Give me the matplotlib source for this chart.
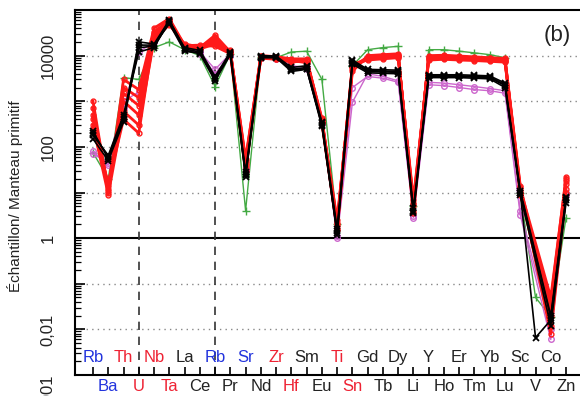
import numpy as np
import matplotlib.pyplot as plt
import matplotlib.transforms as mtransforms
from matplotlib.ticker import LogLocator, NullFormatter

plt.rcParams['font.family'] = ['Liberation Sans', 'DejaVu Sans']

nan = np.nan

elements = ['Rb', 'Ba', 'Th', 'U', 'Nb', 'Ta', 'La', 'Ce', 'Rb', 'Pr', 'Sr', 'Nd',
            'Zr', 'Hf', 'Sm', 'Eu', 'Ti', 'Sn', 'Gd', 'Tb', 'Dy', 'Li', 'Y', 'Ho',
            'Er', 'Tm', 'Yb', 'Lu', 'Sc', 'V', 'Co', 'Zn']
label_colors = ['#2233dd', '#2233dd', '#ee2233', '#ee2233', '#ee2233', '#ee2233',
                '#222222', '#222222', '#2233dd', '#222222', '#2233dd', '#222222',
                '#ee2233', '#ee2233', '#222222', '#222222', '#ee2233', '#ee2233',
                '#222222', '#222222', '#222222', '#222222', '#222222', '#222222',
                '#222222', '#222222', '#222222', '#222222', '#222222', '#222222',
                '#222222', '#222222']

# red group (normalised to primitive mantle)
red_1 = [1000, 10, 3000, 1800, 40000, 65000, 17000, 15000, 28000, 12000, 40, 9500,
         9000, 8000, 8000, 350, 2.0, 6000, 9000, 9500, 10000, 5, 9000, 9300,
         9000, 8600, 8300, 8000, 12, nan, 0.05, 20]
red_2 = [700, 12, 2000, 1200, 33000, 60000, 16000, 16000, 22000, 11500, 35, 9000,
         8500, 7500, 7500, 380, 1.8, 5500, 8500, 9000, 9500, 6, 8500, 8800,
         8500, 8200, 7900, 7600, 10, nan, 0.03, 18]
red_3 = [500, 14, 1500, 800, 28000, 55000, 15000, 14000, 18000, 12500, 50, 10000,
         9500, 8500, 8500, 400, 2.2, 5000, 9500, 10000, 10500, 4, 9500, 9800,
         9500, 9000, 8700, 8400, 14, nan, 0.02, 15]
red_4 = [400, 11, 1000, 500, 25000, 50000, 16500, 17000, 16000, 11000, 30, 9200,
         8800, 7800, 7000, 330, 1.6, 6500, 8000, 8500, 9000, 7, 8000, 8300,
         8000, 7800, 7500, 7200, 11, nan, 0.012, 12]
red_5 = [300, 9, 600, 300, 22000, 48000, 18000, 15500, 20000, 13000, 45, 9800,
         9200, 8200, 8200, 360, 2.5, 4500, 10000, 10500, 11000, 3.5, 10000, 10200,
         9800, 9400, 9000, 8700, 9, nan, 0.04, 22]
red_6 = [250, 16, 400, 200, 30000, 58000, 15500, 14500, 25000, 12000, 55, 8800,
         8300, 7200, 7800, 420, 1.5, 5800, 8800, 9200, 9800, 5.5, 8800, 9000,
         8700, 8400, 8100, 7800, 13, nan, 0.008, 10]

# black group
black_1 = [200, 60, 450, 20000, 18000, 60000, 14000, 12000, 3000, 11000, 25, 9500,
           9500, 5000, 5500, 300, 1.4, 7000, 4500, 4400, 4300, 4, 3500, 3500,
           3500, 3400, 3300, 2200, 10, 0.0066, 0.016, 7.5]
black_2 = [220, 55, 400, 15000, 16000, 55000, 13000, 11000, 2800, 10500, 22, 9000,
           9000, 4500, 5000, 330, 1.2, 6500, 4200, 4100, 4000, 3.5, 3300, 3300,
           3300, 3200, 3100, 2000, 9, nan, 0.012, 6]
black_3 = [180, 65, 500, 12000, 15000, 58000, 15000, 13000, 3500, 12000, 28, 10000,
           9800, 5500, 6000, 350, 1.6, 8000, 5000, 4900, 4800, 4.5, 3800, 3800,
           3800, 3700, 3600, 2500, 11, nan, 0.02, 8]
black_4 = [150, 50, 350, 17000, 17000, 50000, 12500, 11500, 3200, 11500, 24, 9200,
           9200, 4800, 5200, 280, 1.3, 7500, 4700, 4600, 4500, 3.8, 3600, 3600,
           3600, 3500, 3400, 2300, 10, nan, 0.018, 7]

# pink group
pink_1 = [70, 45, 1000, 1600, 25000, 60000, 15000, 12000, 5000, 11000, 30, 9500,
          9000, 6000, 5500, 350, 1.0, 950, 4000, 3500, 2800, 2.8, 2300, 2200,
          2000, 1800, 1700, 1500, 3.2, nan, 0.006, 10]
pink_2 = [80, 40, 700, 12000, 20000, 55000, 14000, 11000, 4000, 10000, 35, 9000,
          8500, 5500, 5000, 320, 1.1, 2000, 3500, 3200, 2600, 3, 2600, 2500,
          2300, 2100, 1900, 1700, 4, nan, 0.01, 9]

# green sample
green_1 = [75, 20, 3300, 3000, 15000, 20000, 13500, 10000, 2100, 11000, 4, 9500,
           9000, 12000, 12500, 3000, 2.0, 6000, 13500, 15000, 16000, 5, 13500, 13500,
           12500, 11500, 10500, 9000, 10, 0.05, 0.019, 2.8]

x = np.arange(len(elements))

fig = plt.figure(figsize=(5.8, 3.96), dpi=100)
ax = fig.add_axes([75 / 580, 21 / 396, 515 / 580, 365 / 396])
ax.set_yscale('log')
ax.set_xlim(-1.18, 32.57)
ax.set_ylim(1e-3, 1e5)

# decade grid, solid at 1
for dec in [1e4, 1e3, 1e2, 1e1, 1e-1, 1e-2]:
    ax.axhline(dec, color='#888888', lw=1, ls=(0, (1, 3)), zorder=1)
ax.axhline(1, color='black', lw=1.5, zorder=1)
for xi in [3, 8]:
    ax.axvline(xi, color='#333333', lw=1.2, ls=(0, (5, 4)), zorder=1)


def draw(vals, **kw):
    v = np.array(vals, dtype=float)
    ok = ~np.isnan(v)
    ax.plot(x[ok], v[ok], **kw)


for s in [green_1]:
    draw(s, color='#44aa44', lw=1, marker='+', ms=6, mew=1, zorder=3)
for s in [pink_1, pink_2]:
    draw(s, color='#cc66cc', lw=1, marker='o', ms=4, mfc='none', mew=1, zorder=3)
for s in [red_1, red_2, red_3, red_4, red_5, red_6]:
    draw(s, color='#ff1a1a', lw=2, marker='o', ms=3.5, mfc='none', mew=1, zorder=4)
for s in [black_1, black_2, black_3, black_4]:
    draw(s, color='black', lw=1.2, marker='x', ms=5, mew=1.3, zorder=5)

# axes frame
for side in ['top', 'left', 'bottom']:
    ax.spines[side].set_linewidth(1.5)
ax.spines['right'].set_visible(False)

# y ticks
ax.yaxis.set_major_locator(LogLocator(base=10, numticks=20))
ax.yaxis.set_minor_locator(LogLocator(base=10, subs=np.arange(2, 10), numticks=20))
ax.yaxis.set_minor_formatter(NullFormatter())
ytick_vals = [1e-3, 1e-2, 1e-1, 1, 1e1, 1e2, 1e3, 1e4]
ytick_text = ['0,001', '0,01', '', '1', '', '100', '', '10000']
ax.set_yticks(ytick_vals)
ax.set_yticklabels(ytick_text, rotation=90, va='center', fontsize=12, color='#222222')
ax.yaxis.get_ticklabels()[0].set_va('top')
ax.tick_params(axis='y', which='major', direction='in', length=7, width=1.2, pad=14)
ax.tick_params(axis='y', which='minor', direction='in', length=4, width=0.9)

# x ticks with element names in two staggered rows
ax.set_xticks(x)
ax.set_xticklabels([])
ax.tick_params(axis='x', direction='in', length=6, width=1.2)
trans = mtransforms.blended_transform_factory(ax.transData, ax.transAxes)
for i, (el, c) in enumerate(zip(elements, label_colors)):
    ypos = 0.049 if i % 2 == 0 else -0.031
    ax.text(i, ypos, el, transform=trans, ha='center', va='center',
            fontsize=12, color=c, clip_on=False)

fig.text(15 / 580, 1 - 196 / 396, 'Échantillon/ Manteau primitif', rotation=90,
         ha='center', va='center', fontsize=11, color='#222222')
fig.text(557 / 580, 1 - 35 / 396, '(b)', ha='center', va='center', fontsize=16,
         color='#222222')

fig.savefig('out.png', dpi=100)
